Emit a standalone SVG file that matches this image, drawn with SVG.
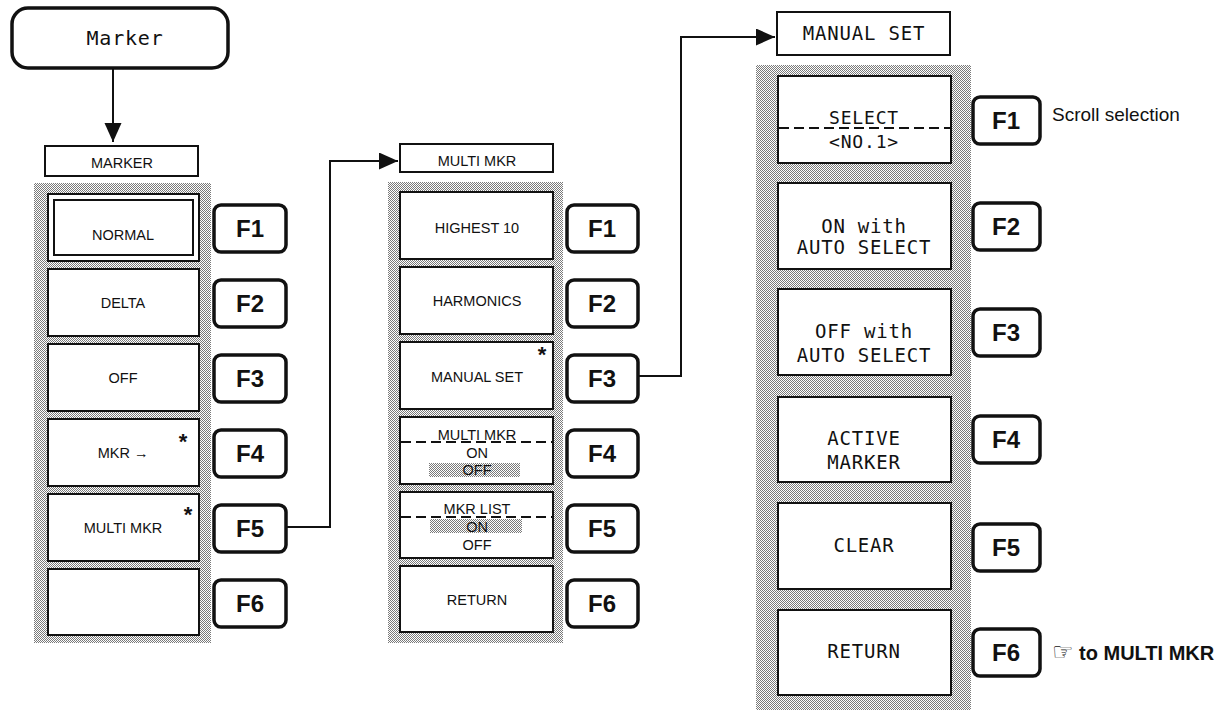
<svg xmlns="http://www.w3.org/2000/svg" width="1228" height="720" viewBox="0 0 1228 720">
<defs>
<pattern id="dots" width="2" height="2" patternUnits="userSpaceOnUse">
<rect width="2" height="2" fill="#ffffff"/>
<rect width="1" height="1" fill="#7a7a7a"/>
<rect x="1" y="1" width="1" height="1" fill="#7a7a7a"/>
</pattern>
<marker id="arr" markerUnits="userSpaceOnUse" markerWidth="20" markerHeight="18" refX="19" refY="8.5" orient="auto">
<path d="M0,0 L19,8.5 L0,17 z" fill="#111"/>
</marker>
</defs>
<style>
.shade{fill:url(#dots)}
.btn{fill:#fff;stroke:#111;stroke-width:2}
.hdr{fill:#fff;stroke:#111;stroke-width:2}
.fk{fill:#fff;stroke:#111;stroke-width:3.5}
.fkt{font-family:"Liberation Sans",Arial,sans-serif;font-weight:bold;font-size:24px;fill:#111;text-anchor:middle}
.lbl{font-family:"Liberation Sans",Arial,sans-serif;font-size:14.5px;fill:#111;text-anchor:middle}
.mono{font-family:"DejaVu Sans Mono","Liberation Mono",monospace;font-size:19px;letter-spacing:0.8px;fill:#111;text-anchor:middle}
.ast{font-family:"Liberation Sans",Arial,sans-serif;font-weight:bold;font-size:22px;fill:#111;text-anchor:middle}
.dash{stroke:#111;stroke-width:2;stroke-dasharray:10 5;fill:none}
.conn{stroke:#111;stroke-width:2;fill:none}
.note{font-family:"Liberation Sans",Arial,sans-serif;font-size:19px;fill:#111}
</style>

<g id="marker-key">
<rect x="12" y="8" width="216" height="60" rx="16" fill="#fff" stroke="#111" stroke-width="3.5"/>
<text class="mono" x="125" y="45" style="font-size:20px">Marker</text>
</g>

<!-- Panel 1 -->
<g id="marker-menu">
<rect class="hdr" x="45" y="146" width="153" height="30"/>
<text class="lbl" x="122" y="168">MARKER</text>
<rect class="shade" x="34" y="183" width="177" height="460"/>
<g id="m-normal">
<rect class="btn" x="48" y="194" width="151" height="67" stroke-width="1.5"/>
<rect class="btn" x="54" y="200" width="139" height="55"/>
<text class="lbl" x="123" y="240">NORMAL</text>
</g>
<g id="m-delta"><rect class="btn" x="48" y="269" width="151" height="67"/><text class="lbl" x="123" y="308">DELTA</text></g>
<g id="m-off"><rect class="btn" x="48" y="344" width="151" height="67"/><text class="lbl" x="123" y="383">OFF</text></g>
<g id="m-mkr"><rect class="btn" x="48" y="419" width="151" height="67"/><text class="lbl" x="123" y="458">MKR →</text><text class="ast" x="183" y="449">*</text></g>
<g id="m-multi"><rect class="btn" x="48" y="494" width="151" height="67"/><text class="lbl" x="123" y="533">MULTI MKR</text><text class="ast" x="188" y="522">*</text></g>
<g id="m-empty"><rect class="btn" x="48" y="569" width="151" height="66" stroke-width="1"/></g>
<g id="m-fkeys">
<rect class="fk" x="214" y="205" width="72" height="47" rx="7"/><text class="fkt" x="250" y="237">F1</text>
<rect class="fk" x="214" y="280" width="72" height="47" rx="7"/><text class="fkt" x="250" y="312">F2</text>
<rect class="fk" x="214" y="355" width="72" height="47" rx="7"/><text class="fkt" x="250" y="387">F3</text>
<rect class="fk" x="214" y="430" width="72" height="47" rx="7"/><text class="fkt" x="250" y="462">F4</text>
<rect class="fk" x="214" y="505" width="72" height="47" rx="7"/><text class="fkt" x="250" y="537">F5</text>
<rect class="fk" x="214" y="580" width="72" height="47" rx="7"/><text class="fkt" x="250" y="612">F6</text>
</g>
</g>

<!-- Panel 2 -->
<g id="multi-menu">
<rect class="hdr" x="400" y="144" width="153" height="28"/>
<text class="lbl" x="477" y="166">MULTI MKR</text>
<rect class="shade" x="388" y="182" width="175" height="461"/>
<g id="mm-highest"><rect class="btn" x="400" y="192" width="153" height="67"/><text class="lbl" x="477" y="233">HIGHEST 10</text></g>
<g id="mm-harm"><rect class="btn" x="400" y="267" width="153" height="67"/><text class="lbl" x="477" y="306">HARMONICS</text></g>
<g id="mm-manual"><rect class="btn" x="400" y="342" width="153" height="67"/><text class="lbl" x="477" y="382">MANUAL SET</text><text class="ast" x="542" y="362">*</text></g>
<g id="mm-onoff">
<rect class="btn" x="400" y="417" width="153" height="67"/>
<rect class="shade" x="429" y="463" width="91" height="14"/>
<text class="lbl" x="477" y="440">MULTI MKR</text>
<line class="dash" x1="401" y1="442" x2="552" y2="442"/>
<text class="lbl" x="477" y="458">ON</text>
<text class="lbl" x="477" y="475">OFF</text>
</g>
<g id="mm-list">
<rect class="btn" x="400" y="492" width="153" height="66"/>
<rect class="shade" x="430" y="519" width="92" height="14"/>
<text class="lbl" x="477" y="514">MKR LIST</text>
<line class="dash" x1="401" y1="517" x2="552" y2="517"/>
<text class="lbl" x="477" y="532">ON</text>
<text class="lbl" x="477" y="550">OFF</text>
</g>
<g id="mm-return"><rect class="btn" x="400" y="566" width="153" height="66"/><text class="lbl" x="477" y="605">RETURN</text></g>
<g id="mm-fkeys">
<rect class="fk" x="567" y="205" width="71" height="47" rx="7"/><text class="fkt" x="602" y="237">F1</text>
<rect class="fk" x="567" y="280" width="71" height="47" rx="7"/><text class="fkt" x="602" y="312">F2</text>
<rect class="fk" x="567" y="355" width="71" height="47" rx="7"/><text class="fkt" x="602" y="387">F3</text>
<rect class="fk" x="567" y="430" width="71" height="47" rx="7"/><text class="fkt" x="602" y="462">F4</text>
<rect class="fk" x="567" y="505" width="71" height="47" rx="7"/><text class="fkt" x="602" y="537">F5</text>
<rect class="fk" x="567" y="580" width="71" height="47" rx="7"/><text class="fkt" x="602" y="612">F6</text>
</g>
</g>

<!-- Panel 3 -->
<g id="manual-menu">
<rect class="hdr" x="777" y="12" width="173" height="43"/>
<text class="mono" x="864" y="40">MANUAL SET</text>
<rect class="shade" x="756" y="65" width="215" height="645"/>
<g id="ms-select">
<rect class="btn" x="778" y="76" width="173" height="87"/>
<text class="mono" x="864" y="124" style="font-size:18px">SELECT</text>
<line class="dash" x1="779" y1="128" x2="950" y2="128"/>
<text class="mono" x="864" y="148" style="font-size:18px">&lt;NO.1&gt;</text>
</g>
<g id="ms-on"><rect class="btn" x="778" y="183" width="173" height="86"/><text class="mono" x="864" y="233">ON with</text><text class="mono" x="864" y="254">AUTO SELECT</text></g>
<g id="ms-off"><rect class="btn" x="778" y="289" width="173" height="86"/><text class="mono" x="864" y="338">OFF with</text><text class="mono" x="864" y="362">AUTO SELECT</text></g>
<g id="ms-active"><rect class="btn" x="778" y="397" width="173" height="85"/><text class="mono" x="864" y="445">ACTIVE</text><text class="mono" x="864" y="469">MARKER</text></g>
<g id="ms-clear"><rect class="btn" x="778" y="503" width="173" height="86"/><text class="mono" x="864" y="552">CLEAR</text></g>
<g id="ms-return"><rect class="btn" x="778" y="610" width="173" height="85"/><text class="mono" x="864" y="658">RETURN</text></g>
<g id="ms-fkeys">
<rect class="fk" x="973" y="97" width="67" height="47" rx="7"/><text class="fkt" x="1006" y="129">F1</text>
<rect class="fk" x="973" y="203" width="67" height="47" rx="7"/><text class="fkt" x="1006" y="235">F2</text>
<rect class="fk" x="973" y="309" width="67" height="47" rx="7"/><text class="fkt" x="1006" y="341">F3</text>
<rect class="fk" x="973" y="416" width="67" height="47" rx="7"/><text class="fkt" x="1006" y="448">F4</text>
<rect class="fk" x="973" y="524" width="67" height="47" rx="7"/><text class="fkt" x="1006" y="556">F5</text>
<rect class="fk" x="973" y="629" width="67" height="47" rx="7"/><text class="fkt" x="1006" y="661">F6</text>
</g>
<text class="note" x="1052" y="121">Scroll selection</text>
<text class="note" x="1052" y="660" style="font-weight:bold;font-size:20px"><tspan style="font-family:'DejaVu Sans',sans-serif;font-weight:normal;font-size:24px">☞</tspan> to MULTI MKR</text>
</g>

<g id="connectors">
<line class="conn" x1="113" y1="68" x2="113" y2="142" marker-end="url(#arr)"/>
<polyline class="conn" points="286,527 330,527 330,161 398,161" marker-end="url(#arr)"/>
<polyline class="conn" points="638,376 681,376 681,37 775,37" marker-end="url(#arr)"/>
</g>
</svg>
